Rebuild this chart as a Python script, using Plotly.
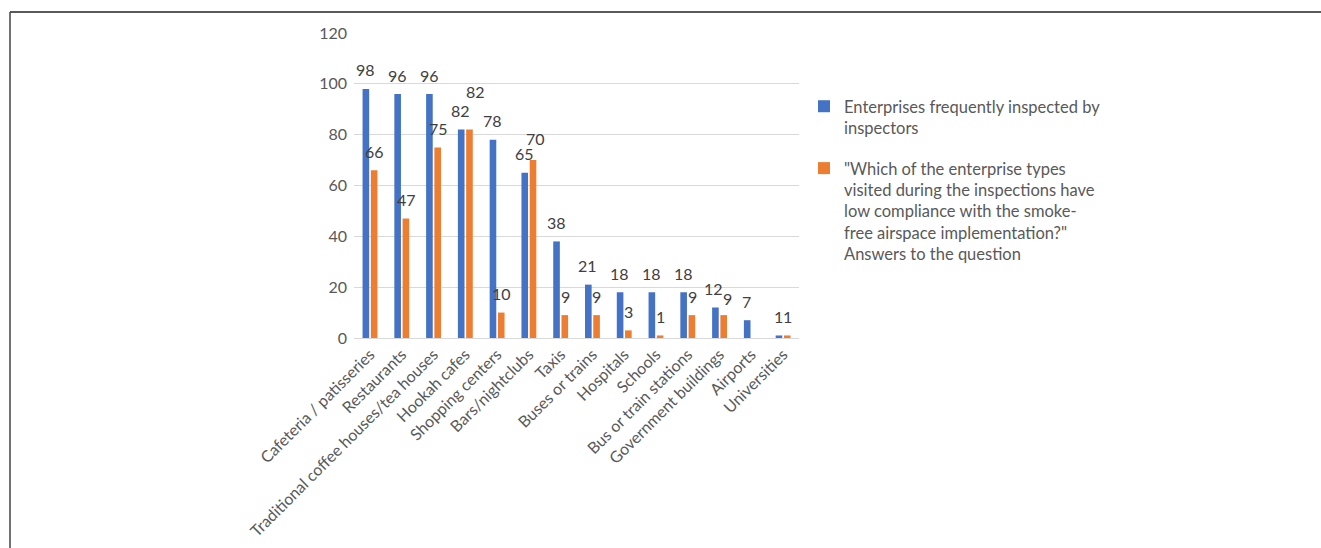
import plotly.graph_objects as go

categories = [
    "Cafeteria / patisseries", "Restaurants", "Traditional coffee houses/tea houses",
    "Hookah cafes", "Shopping centers", "Bars/nightclubs", "Taxis", "Buses or trains",
    "Hospitals", "Schools", "Bus or train stations", "Government buildings",
    "Airports", "Universities",
]
inspected = [98, 96, 96, 82, 78, 65, 38, 21, 18, 18, 18, 12, 7, 1]
low_compliance = [66, 47, 75, 82, 10, 70, 9, 9, 3, 1, 9, 9, None, 1]

name_inspected = "Enterprises frequently inspected by<br>inspectors"
name_low = ('"Which of the enterprise types<br>visited during the inspections have<br>'
            'low compliance with the smoke-<br>free airspace implementation?"<br>Answers to the question')

BLUE = "#4472C4"
ORANGE = "#ED7D31"
FONT = "Lato, Open Sans, sans-serif"

W, H = 1321, 548
L, R, T, B = 354, 522, 33, 210
pw, ph = W - L - R, H - T - B


def px_x(px):
    return (px - L) / pw


def px_y(py):
    return (H - B - py) / ph


fig = go.Figure()
fig.add_trace(go.Bar(x=categories, y=inspected, name=name_inspected, marker_color=BLUE,
                     marker_line_width=0, legendgroup="a"))
fig.add_trace(go.Bar(x=categories, y=low_compliance, name=name_low, marker_color=ORANGE,
                     marker_line_width=0, legendgroup="b"))

# data labels (small nudges where labels crowd each other)
label_nudge = {(1, "Hookah cafes"): (6, 19), (1, "Bars/nightclubs"): (2, 3),
               (1, "Government buildings"): (3, -2), (0, "Government buildings"): (-2, 0)}
annotations = []
for si, (vals, dx) in enumerate([(inspected, -4.5), (low_compliance, 4.5)]):
    for c, v in zip(categories, vals):
        if v is None:
            continue
        nx, ny = label_nudge.get((si, c), (0, 0))
        annotations.append(dict(x=c, y=v, text=str(v), showarrow=False, xref="x", yref="y",
                                xshift=dx + nx, yshift=19 + ny, yanchor="middle",
                                font=dict(family=FONT, size=16, color="#404040")))

shapes = [
    dict(type="line", xref="paper", yref="paper", x0=px_x(10), x1=px_x(W + 5),
         y0=px_y(12), y1=px_y(12), line=dict(color="#222222", width=1.5)),
    dict(type="line", xref="paper", yref="paper", x0=px_x(10), x1=px_x(10),
         y0=px_y(12), y1=px_y(H + 5), line=dict(color="#444444", width=1.5)),
]

fig.update_layout(
    width=W, height=H,
    margin=dict(l=L, r=R, t=T, b=B),
    paper_bgcolor="white", plot_bgcolor="white",
    barmode="group", bargap=0.48, bargroupgap=0.2,
    font=dict(family=FONT, size=16, color="#595959"),
    annotations=annotations,
    shapes=shapes,
    legend=dict(x=px_x(804), y=px_y(89), xanchor="left", yanchor="top",
                font=dict(family=FONT, size=16.5, color="#595959"),
                valign="top", tracegroupgap=16, traceorder="grouped",
                itemwidth=30, bgcolor="rgba(0,0,0,0)"),
    xaxis=dict(tickangle=-45, showgrid=False, showline=True, linecolor="#d9d9d9",
               automargin=False,
               tickfont=dict(family=FONT, size=16, color="#595959")),
    yaxis=dict(range=[0, 120], dtick=20, showgrid=True, gridcolor="#d9d9d9",
               zeroline=False, showline=False, ticks="", ticklabelstandoff=6,
               automargin=False,
               tickfont=dict(family=FONT, size=16, color="#595959")),
)

fig.write_html("out.html")
